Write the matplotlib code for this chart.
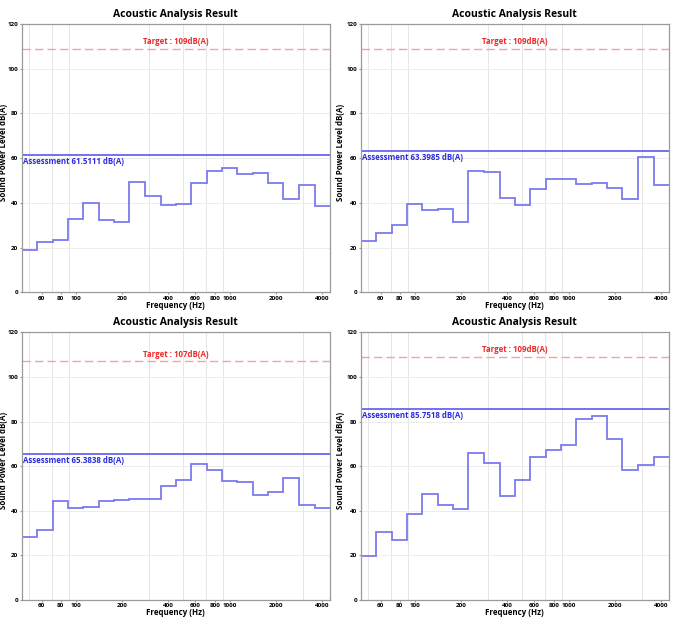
import numpy as np
import matplotlib
matplotlib.use("Agg")
import matplotlib.pyplot as plt
from matplotlib.ticker import FixedLocator, NullFormatter

plt.rcParams['font.family'] = ['Open Sans', 'DejaVu Sans']

# --- data: 1/3 octave band centres (Hz) ---
bands = [50, 63, 80, 100, 125, 160, 200, 250, 315, 400,
         500, 630, 800, 1000, 1250, 1600, 2000, 2500, 3150, 4000]

level_1 = [18.7, 22.7, 23.6, 33.0, 40.0, 32.5, 31.5, 49.3, 43.0, 39.1,
           39.4, 49.1, 54.2, 55.7, 52.8, 53.3, 48.8, 41.9, 47.9, 38.4]
level_2 = [23.0, 26.7, 30.0, 39.4, 36.7, 37.3, 31.5, 54.2, 53.7, 42.2,
           39.0, 46.4, 50.7, 50.7, 48.5, 49.0, 46.6, 41.8, 60.4, 47.8]
level_3 = [28.2, 31.3, 44.6, 41.3, 41.5, 44.6, 44.9, 45.4, 45.1, 50.9,
           53.9, 61.0, 58.1, 53.3, 52.8, 47.0, 48.5, 54.6, 42.5, 41.3]
level_4 = [19.9, 30.4, 26.9, 38.5, 47.6, 42.4, 40.6, 65.9, 61.5, 46.8,
           53.8, 63.9, 67.1, 69.6, 81.2, 82.5, 72.3, 58.2, 60.7, 63.9]

levels = [level_1, level_2, level_3, level_4]
targets = [109, 109, 107, 109]
assessments = [61.5111, 63.3985, 65.3838, 85.7518]

xtick_vals = [60, 80, 100, 200, 400, 600, 800, 1000, 2000, 4000]
xgrid_vals = [50, 60, 70, 80, 90, 100, 200, 300, 400, 500, 600, 700, 800, 900,
              1000, 2000, 3000, 4000]
ytick_vals = [0, 20, 40, 60, 80, 100, 120]

# band edges from centres
centres = np.array(bands, dtype=float)
edges = np.concatenate([centres / 2 ** (1 / 6), [centres[-1] * 2 ** (1 / 6)]])

fig = plt.figure(figsize=(6.78, 6.18), dpi=100)
W, H = 678, 618
boxes = [(21.7, 24, 330, 292.3), (360.7, 24, 669, 292.3),
         (21.7, 332.3, 330, 600), (360.7, 332.3, 669, 600)]

for i in range(4):
    x0, y0, x1, y1 = boxes[i]
    aw = x1 - x0
    ax = fig.add_axes([x0 / W, 1 - y1 / H, aw / W, (y1 - y0) / H])
    ax.set_xscale('log')
    ax.set_xlim(edges[0], edges[-1])
    ax.set_ylim(0, 120)

    ax.stairs(levels[i], edges, color='#7b7bf0', lw=1.3, baseline=None)

    ax.axhline(targets[i], color='#f4a3a3', lw=1.0, ls=(0, (6, 3)))
    ax.text(np.sqrt(edges[0] * edges[-1]), targets[i] + 1.2,
            'Target : %ddB(A)' % targets[i], color='#ee2a2a',
            fontsize=5.7, fontweight='bold', ha='center', va='bottom')

    ax.axhline(assessments[i], color='#5a5af0', lw=1.2)
    ax.text(edges[0] * 1.02, assessments[i] - 1.0,
            'Assessment %.4f dB(A)' % assessments[i], color='#2a2ae0',
            fontsize=5.7, fontweight='bold', ha='left', va='top')

    ax.xaxis.set_major_locator(FixedLocator(xtick_vals))
    ax.set_xticklabels([str(v) for v in xtick_vals])
    ax.xaxis.set_minor_locator(FixedLocator(xgrid_vals))
    ax.xaxis.set_minor_formatter(NullFormatter())
    ax.set_yticks(ytick_vals)
    ax.tick_params(axis='both', which='major', labelsize=4.5, length=1.5,
                   pad=1, color='#999999')
    ax.tick_params(axis='x', which='minor', length=0)
    for lab in ax.get_xticklabels() + ax.get_yticklabels():
        lab.set_fontweight('bold')

    ax.grid(True, which='minor', axis='x', color='#e6e6e6', lw=0.7)
    ax.grid(True, which='major', axis='y', color='#ececec', lw=0.7)
    ax.set_axisbelow(True)
    for s in ax.spines.values():
        s.set_color('#9a9a9a')
        s.set_linewidth(0.9)

    ax.set_title('Acoustic Analysis Result', fontsize=7.5, fontweight='bold', pad=5)
    ax.set_xlabel('Frequency (Hz)', fontsize=5.7, fontweight='bold', labelpad=0)
    ax.set_ylabel('Sound Power Level dB(A)', fontsize=5.7, fontweight='bold')
    off = 13.7 if i % 2 == 0 else 15.5
    ax.yaxis.set_label_coords(-off / aw, 0.52)

fig.savefig('out.png', dpi=100, facecolor='white')
